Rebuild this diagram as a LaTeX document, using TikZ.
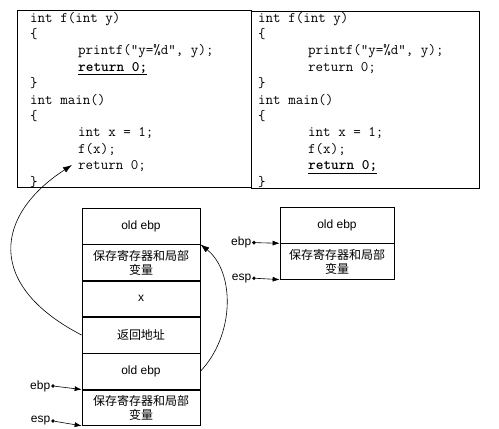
\documentclass[tikz,border=0pt]{standalone}
\usepackage{fontspec}
\setmainfont{Liberation Sans}
\newfontfamily\cjk{Noto Sans CJK SC}
\usetikzlibrary{arrows.meta}
\begin{document}
\begin{tikzpicture}[x=1pt,y=-1pt,
  codebox/.style={draw, line width=1.1pt, minimum width=#1, minimum height=177pt, anchor=north west, inner sep=0pt},
  code/.style={anchor=base west, inner sep=0pt, font=\ttfamily\fontsize{14.6}{16}\selectfont},
  cell/.style={draw, line width=0.7pt, minimum width=118pt, minimum height=35.6pt, anchor=north, inner sep=0pt, align=center, font=\fontsize{12}{15}\selectfont},
  rcell/.style={cell, minimum width=114pt},
  dotn/.style={circle, fill=black, inner sep=0pt, minimum size=3.8pt},
  lab/.style={anchor=east, inner sep=0.5pt, font=\fontsize{12}{14}\selectfont},
  ptr/.style={-{Latex[length=7pt,width=5pt]}, line width=0.6pt},
  curv/.style={-{Latex[length=9pt,width=6pt]}, line width=0.6pt},
  hl/.style={font=\ttfamily\bfseries\fontsize{14.6}{16}\selectfont}
]
\useasboundingbox (0,0) rectangle (499,429);

% code boxes
\node[codebox=234pt] (boxL) at (17,10) {};
\node[codebox=228pt] (boxR) at (251,11) {};

% left code
\node[code] (a1) at (30,22) {int f(int y)};
\node[code] (a2) at (30,38.4) {\{};
\node[code] (a3) at (78,54.8) {printf("y=\%d", y);};
\node[code,hl] (a4) at (78,71.2) {\underline{return 0;}};
\node[code] (a5) at (30,87.6) {\}};
\node[code] (a6) at (30,104) {int main()};
\node[code] (a7) at (30,120.4) {\{};
\node[code] (a8) at (78,136.8) {int x = 1;};
\node[code] (a9) at (78,153.2) {f(x);};
\node[code] (a10) at (78,169.6) {return 0;};
\node[code] (a11) at (30,186) {\}};

% right code
\node[code] (b1) at (258,22) {int f(int y)};
\node[code] (b2) at (258,38.4) {\{};
\node[code] (b3) at (308,54.8) {printf("y=\%d", y);};
\node[code] (b4) at (308,71.2) {return 0;};
\node[code] (b5) at (258,87.6) {\}};
\node[code] (b6) at (258,104) {int main()};
\node[code] (b7) at (258,120.4) {\{};
\node[code] (b8) at (308,136.8) {int x = 1;};
\node[code] (b9) at (308,153.2) {f(x);};
\node[code,hl] (b10) at (308,169.6) {\underline{return 0;}};
\node[code] (b11) at (258,186) {\}};

% left stack
\node[cell] (s1) at (141,208) {old ebp};
\node[cell] (s2) at (s1.south) {{\cjk 保存寄存器和局部}\\[-1pt]{\cjk 变量}};
\node[cell] (s3) at (s2.south) {x};
\node[cell] (s4) at (s3.south) {\cjk 返回地址};
\node[cell] (s5) at (s4.south) {old ebp};
\node[cell] (s6) at (s5.south) {{\cjk 保存寄存器和局部}\\[-1pt]{\cjk 变量}};

% right stack
\node[rcell] (r1) at (337,207) {old ebp};
\node[rcell] (r2) at (r1.south) {{\cjk 保存寄存器和局部}\\[-1pt]{\cjk 变量}};

% pointers left
\node[dotn] (ebpdL) at (53,386) {};
\node[lab] (ebpL) at (ebpdL.west) {ebp};
\node[dotn] (espdL) at (53,421) {};
\node[lab] (espL) at (espdL.west) {esp};
\draw[ptr] (ebpdL) -- (s6.north west);
\draw[ptr] (espdL) -- (s6.south west);

% pointers right
\node[dotn] (ebpdR) at (254,242.6) {};
\node[lab] (ebpR) at (ebpdR.west) {ebp};
\node[dotn] (espdR) at (254,278.2) {};
\node[lab] (espR) at (espdR.west) {esp};
\draw[ptr] (ebpdR) -- (r2.north west);
\draw[ptr] (espdR) -- (r2.south west);

% curved arrows
\coordinate (retpt) at (72,165);
\draw[curv] (s4.west) .. controls (-15,285) and (-5,215) .. (retpt);
\draw[curv] (s5.east) .. controls (235,335) and (235,272) .. (s2.north east);
\end{tikzpicture}
\end{document}
